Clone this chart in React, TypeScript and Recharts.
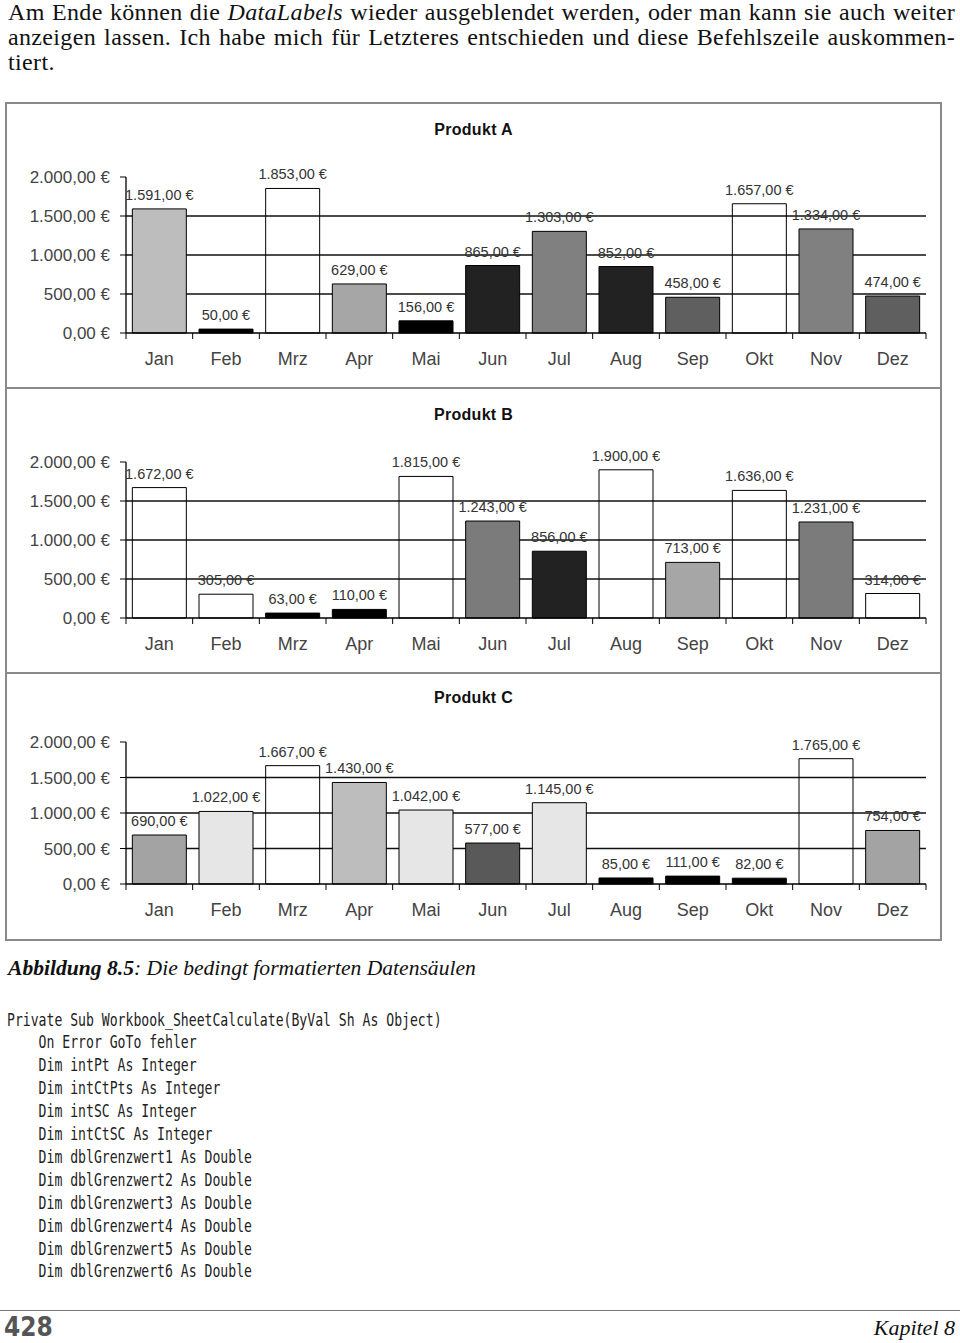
import React from 'react'
import { BarChart, Bar, XAxis, YAxis, CartesianGrid, Cell, LabelList } from 'recharts'

const MONTHS = ['Jan', 'Feb', 'Mrz', 'Apr', 'Mai', 'Jun', 'Jul', 'Aug', 'Sep', 'Okt', 'Nov', 'Dez']

const PRODUCT_A = [1591, 50, 1853, 629, 156, 865, 1303, 852, 458, 1657, 1334, 474]
const PRODUCT_B = [1672, 305, 63, 110, 1815, 1243, 856, 1900, 713, 1636, 1231, 314]
const PRODUCT_C = [690, 1022, 1667, 1430, 1042, 577, 1145, 85, 111, 82, 1765, 754]

const Y_TICKS = [0, 500, 1000, 1500, 2000]
const GRID_VALUES = [500, 1000, 1500]

// bar fills (conditional formatting in the original), 'none' = no fill
const FILLS_A = ['#bdbdbd', '#000', 'none', '#a6a6a6', '#000', '#222', '#808080', '#222', '#5f5f5f', 'none', '#808080', '#5f5f5f']
const FILLS_B = ['none', 'none', '#000', '#000', 'none', '#7b7b7b', '#222', 'none', '#a6a6a6', 'none', '#7b7b7b', 'none']
const FILLS_C = ['#a3a3a3', '#e6e6e6', 'none', '#bdbdbd', '#e6e6e6', '#595959', '#e6e6e6', '#000', '#000', '#000', 'none', '#a3a3a3']

const CODE_LINES = [
  'Private Sub Workbook_SheetCalculate(ByVal Sh As Object)',
  '    On Error GoTo fehler',
  '    Dim intPt As Integer',
  '    Dim intCtPts As Integer',
  '    Dim intSC As Integer',
  '    Dim intCtSC As Integer',
  '    Dim dblGrenzwert1 As Double',
  '    Dim dblGrenzwert2 As Double',
  '    Dim dblGrenzwert3 As Double',
  '    Dim dblGrenzwert4 As Double',
  '    Dim dblGrenzwert5 As Double',
  '    Dim dblGrenzwert6 As Double',
]

const SANS = '"Liberation Sans", Arial, sans-serif'
const SERIF = '"Liberation Serif", "Times New Roman", serif'
const TICK_SIZE = 6
const TICK_MARGIN = 10

const euro = (v: number) => {
  const [i, d] = Number(v).toFixed(2).split('.')
  return i.replace(/\B(?=(\d{3})+(?!\d))/g, '.') + ',' + d + ' €'
}

function MonthTick(props: any) {
  const { x, y, payload } = props
  const half = payload.offset ?? 0
  const axisY = y - TICK_SIZE - TICK_MARGIN
  const last = payload.value === MONTHS[MONTHS.length - 1]
  return (
    <g>
      <line x1={x - half} x2={x - half} y1={axisY} y2={axisY + TICK_SIZE} stroke="#000" />
      {last && <line x1={x + half} x2={x + half} y1={axisY} y2={axisY + TICK_SIZE} stroke="#000" />}
      <text x={x} y={axisY + 32} textAnchor="middle" fontSize={18} fill="#444" fontFamily={SANS}>
        {payload.value}
      </text>
    </g>
  )
}

// value label above each bar, without wrapping
function BarLabel(props: any) {
  const { x, y, width, value } = props
  return (
    <text x={x + width / 2} y={y - 9} textAnchor="middle" fontSize={14.5} fill="#333" fontFamily={SANS}>
      {euro(value)}
    </text>
  )
}

interface ProductChartProps {
  title: string
  values: number[]
  fills: string[]
  top: number
  height: number
  plotTop: number
  titleTop: number
}

function ProductChart({ title, values, fills, top, height, plotTop, titleTop }: ProductChartProps) {
  const data = MONTHS.map((m, i) => ({ m, v: values[i] }))
  return (
    <div style={{ position: 'absolute', left: 6, top, width: 935, height, fontFamily: SANS }}>
      <BarChart
        width={935}
        height={height}
        data={data}
        margin={{ top: plotTop, right: 15, bottom: 0, left: 0 }}
        barCategoryGap="9.5%"
      >
        <CartesianGrid vertical={false} horizontalValues={GRID_VALUES} stroke="#111" strokeWidth={1.3} />
        <XAxis
          dataKey="m"
          height={54}
          interval={0}
          tickLine={false}
          tickSize={TICK_SIZE}
          tickMargin={TICK_MARGIN}
          axisLine={{ stroke: '#000', strokeWidth: 1.3 }}
          tick={<MonthTick />}
        />
        <XAxis xAxisId="top" orientation="top" dataKey="m" height={0} tick={false} tickLine={false} axisLine={{ stroke: '#a8a8a8' }} />
        <YAxis
          domain={[0, 2000]}
          ticks={Y_TICKS}
          width={120}
          tickFormatter={euro}
          tickSize={TICK_SIZE}
          tickMargin={TICK_MARGIN}
          tickLine={{ stroke: '#000' }}
          axisLine={{ stroke: '#000', strokeWidth: 1.3 }}
          tick={{ fontSize: 17, fill: '#444', fontFamily: SANS }}
        />
        <YAxis yAxisId="r" orientation="right" width={0} domain={[0, 2000]} tick={false} tickLine={false} axisLine={{ stroke: '#a8a8a8' }} />
        <Bar dataKey="v" stroke="#000" strokeWidth={1} isAnimationActive={false}>
          {data.map((d, i) => (
            <Cell key={d.m} fill={fills[i]} />
          ))}
          <LabelList dataKey="v" content={<BarLabel />} />
        </Bar>
      </BarChart>
      <div
        style={{
          position: 'absolute',
          left: 0,
          width: 935,
          top: titleTop,
          textAlign: 'center',
          fontSize: 16,
          lineHeight: '16px',
          fontWeight: 'bold',
          letterSpacing: '0.3px',
          color: '#111',
        }}
      >
        {title}
      </div>
    </div>
  )
}

const lineStyle: React.CSSProperties = {
  position: 'absolute',
  left: 8,
  width: 947,
  fontFamily: SERIF,
  fontSize: 24,
  letterSpacing: '0.35px',
  lineHeight: '25px',
  whiteSpace: 'nowrap',
  textAlign: 'justify',
  textAlignLast: 'justify',
  color: '#111',
}

const border = '2px solid #8a8a8a'

export default function App() {
  return (
    <div style={{ position: 'absolute', left: 0, top: 0, width: 960, height: 1343, background: '#fff', overflow: 'hidden' }}>
      <div style={{ ...lineStyle, top: 0 }}>
        Am Ende können die <i>DataLabels</i> wieder ausgeblendet werden, oder man kann sie auch weiter
      </div>
      <div style={{ ...lineStyle, top: 25 }}>
        anzeigen lassen. Ich habe mich für Letzteres entschieden und diese Befehlszeile auskommen-
      </div>
      <div style={{ ...lineStyle, top: 50, textAlign: 'left', textAlignLast: 'left' }}>tiert.</div>

      <ProductChart title="Produkt A" values={PRODUCT_A} fills={FILLS_A} top={103} height={284} plotTop={74} titleTop={19} />
      <ProductChart title="Produkt B" values={PRODUCT_B} fills={FILLS_B} top={388} height={284} plotTop={74} titleTop={19} />
      <ProductChart title="Produkt C" values={PRODUCT_C} fills={FILLS_C} top={673} height={265} plotTop={69} titleTop={17} />

      <div style={{ position: 'absolute', left: 5, top: 102, width: 937, height: 287, border, boxSizing: 'border-box' }} />
      <div style={{ position: 'absolute', left: 5, top: 387, width: 937, height: 287, border, boxSizing: 'border-box' }} />
      <div style={{ position: 'absolute', left: 5, top: 672, width: 937, height: 269, border, boxSizing: 'border-box' }} />

      <div style={{ position: 'absolute', left: 8, top: 955, fontFamily: SERIF, fontSize: 21.6, lineHeight: '26px', fontStyle: 'italic', color: '#111', whiteSpace: 'nowrap' }}>
        <b>Abbildung 8.5</b>: Die bedingt formatierten Datensäulen
      </div>

      <div
        style={{
          position: 'absolute',
          left: 7,
          top: 1008.5,
          fontFamily: '"DejaVu Sans Mono", monospace',
          fontSize: 17,
          lineHeight: '22.9px',
          color: '#222',
          whiteSpace: 'pre',
          transform: 'scaleX(0.772)',
          transformOrigin: '0 0',
        }}
      >
        {CODE_LINES.map((l) => (
          <div key={l}>{l}</div>
        ))}
      </div>

      <div style={{ position: 'absolute', left: 0, top: 1310, width: 960, height: 0, borderTop: '1.5px solid #777' }} />
      <div style={{ position: 'absolute', left: 4, top: 1312, fontFamily: '"DejaVu Sans Condensed", "DejaVu Sans", sans-serif', fontWeight: 'bold', fontSize: 26, lineHeight: '30px', color: '#555' }}>
        428
      </div>
      <div style={{ position: 'absolute', right: 5, top: 1315, fontFamily: SERIF, fontStyle: 'italic', fontSize: 22, lineHeight: '26px', color: '#111' }}>
        Kapitel 8
      </div>
    </div>
  )
}
